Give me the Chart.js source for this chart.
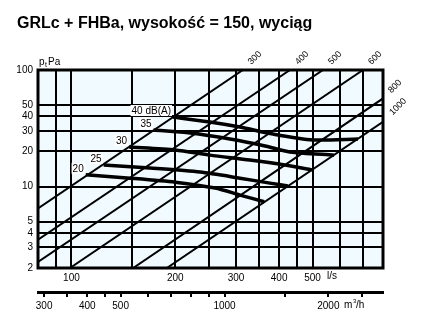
<!DOCTYPE html>
<html>
<head>
<meta charset="utf-8">
<script src="https://cdn.jsdelivr.net/npm/chart.js@4.4.1/dist/chart.umd.min.js"></script>
<style>
html, body { margin: 0; padding: 0; background: #fff; }
#wrap { position: relative; width: 444px; height: 326px; }
</style>
</head>
<body>
<div id="wrap"><canvas id="chart" width="444" height="326"></canvas></div>
<script>
const titleText = "GRLc + FHBa, wysokość = 150, wyciąg";

// axes (l/s, Pa, m3/h)
const xGrid = [80, 90, 100, 150, 200, 250, 300, 350, 400, 450, 500, 600, 700, 800];
const xLabels = [100, 200, 300, 400, 500];
const yGrid = [2, 3, 4, 5, 10, 20, 30, 40, 50, 100];
const yLabels = [2, 3, 4, 5, 10, 20, 30, 40, 50, 100];
const m3hTicks = [300, 350, 400, 450, 500, 600, 700, 800, 900, 1000, 1500, 2000, 2500];
const m3hLabels = [300, 400, 500, 1000, 2000];

// grille sizes: [l/s, Pa] end points
const sizeNames = ["300", "400", "500", "600", "800", "1000"];
const size300 = [[80, 6.5], [314, 100]];
const size400 = [[80, 3.5], [430, 100]];
const size500 = [[80, 2.25], [536, 100]];
const size600 = [[99, 2], [700, 100]];
const size800 = [[151, 2], [800, 57]];
const size1000 = [[189, 2], [800, 36]];

// sound level curves, dB(A)
const noiseNames = ["20", "25", "30", "35", "40 dB(A)"];
const noise20 = [[110, 12.6], [148, 11.8], [200, 10.9], [261, 9.7], [308, 8.45], [362, 7.4]];
const noise25 = [[124, 15.3], [169, 14.4], [236, 13.3], [308, 11.8], [376, 10.7], [424, 10.1]];
const noise30 = [[147, 21.8], [200, 20.6], [252, 18.6], [329, 16.9], [416, 15.3], [498, 13.9]];
const noise35 = [[173, 30.5], [221, 28.8], [288, 25.6], [364, 22.3], [430, 19.8], [577, 18.6]];
const noise40 = [[197, 39.5], [252, 35.8], [308, 32.4], [384, 28.2], [501, 25.1], [677, 25.6]];

const sizeLines = [size300, size400, size500, size600, size800, size1000];
const noiseLines = [noise20, noise25, noise30, noise35, noise40];

function pts(arr) {
    return arr.map(p => ({ x: p[0], y: p[1] }));
}

const datasets = [];
noiseLines.forEach(function (d) {
    datasets.push({ data: pts(d), borderColor: "#000", borderWidth: 3.5, pointRadius: 0, tension: 0.25, borderCapStyle: "butt" });
});
sizeLines.forEach(function (d) {
    datasets.push({ data: pts(d), borderColor: "#000", borderWidth: 2, pointRadius: 0, tension: 0 });
});

const font = "Liberation Sans, Arial, sans-serif";

const decor = {
    id: "decor",
    beforeDraw(chart) {
        const c = chart.ctx, a = chart.chartArea;
        c.save();
        c.fillStyle = "#fff";
        c.fillRect(0, 0, chart.width, chart.height);
        c.fillStyle = "#f0faff";
        c.fillRect(a.left, a.top, a.right - a.left, a.bottom - a.top);
        c.restore();
    },
    afterDraw(chart) {
        const c = chart.ctx, a = chart.chartArea;
        const xs = chart.scales.x, ys = chart.scales.y;
        c.save();
        // frame
        c.strokeStyle = "#000";
        c.lineWidth = 3;
        c.strokeRect(a.left, a.top, a.right - a.left, a.bottom - a.top);

        // title
        c.fillStyle = "#000";
        c.font = "bold 16px " + font;
        c.textAlign = "left";
        c.textBaseline = "alphabetic";
        c.fillText(titleText, 17, 28);

        // y axis name
        c.font = "10px " + font;
        c.fillText("p", a.left + 1, 65);
        c.font = "7px " + font;
        c.fillText("t", a.left + 7, 67);
        c.font = "10px " + font;
        c.fillText("Pa", a.left + 10, 65);

        // units
        c.textBaseline = "middle";
        c.fillText("l/s", 327, 276);
        c.fillText("m", 344, 305);
        c.font = "6px " + font;
        c.fillText("3", 353, 301);
        c.font = "10px " + font;
        c.fillText("/h", 356, 305);

        // grille size labels, rotated
        c.font = "9px " + font;
        c.textAlign = "center";
        sizeLines.forEach(function (d, i) {
            const e = d[d.length - 1];
            const px = xs.getPixelForValue(e[0]);
            const py = ys.getPixelForValue(e[1]);
            const extra = (sizeNames[i].length - 3) * 3;
            c.save();
            c.translate(px + 12 + extra, py - 12 - extra);
            c.rotate(-Math.PI / 4);
            c.fillText(sizeNames[i], 0, 0);
            c.restore();
        });

        // noise labels with white box
        c.font = "10px " + font;
        c.textAlign = "right";
        noiseLines.forEach(function (d, i) {
            const px = xs.getPixelForValue(d[0][0]) - 2;
            const py = ys.getPixelForValue(d[0][1]) - 6;
            const w = c.measureText(noiseNames[i]).width;
            c.fillStyle = "#fff";
            c.fillRect(px - w - 1, py - 6, w + 2, 11);
            c.fillStyle = "#000";
            c.fillText(noiseNames[i], px, py);
        });
        c.restore();
    }
};

new Chart(document.getElementById("chart"), {
    type: "line",
    data: { datasets: datasets },
    options: {
        responsive: false,
        animation: false,
        events: [],
        layout: { padding: { top: 70, right: 61, left: 0, bottom: 0 } },
        plugins: { legend: { display: false }, tooltip: { enabled: false } },
        scales: {
            x: {
                type: "logarithmic",
                position: "bottom",
                min: 80,
                max: 800,
                afterBuildTicks: s => { s.ticks = xGrid.map(v => ({ value: v })); },
                afterFit: s => { s.height = 24; },
                grid: { color: "#000", lineWidth: 2, drawTicks: false },
                border: { display: false },
                ticks: {
                    autoSkip: false, maxRotation: 0, padding: 4, color: "#000",
                    font: { size: 10, family: font },
                    callback: v => xLabels.includes(v) ? String(v) : ""
                }
            },
            x2: {
                type: "logarithmic",
                position: "bottom",
                min: 288,
                max: 2880,
                afterBuildTicks: s => { s.ticks = m3hTicks.map(v => ({ value: v })); },
                afterFit: s => { s.height = 34; },
                grid: { display: true, drawOnChartArea: false, drawTicks: true, tickLength: 5, color: "#000", lineWidth: 2 },
                border: { display: true, color: "#000", width: 3 },
                ticks: {
                    autoSkip: false, maxRotation: 0, padding: 3, color: "#000",
                    font: { size: 10, family: font },
                    callback: v => m3hLabels.includes(v) ? String(v) : ""
                }
            },
            y: {
                type: "logarithmic",
                min: 2,
                max: 100,
                afterBuildTicks: s => { s.ticks = yGrid.map(v => ({ value: v })); },
                afterFit: s => { s.width = 38; },
                grid: { color: "#000", lineWidth: 2, drawTicks: false },
                border: { display: false },
                ticks: {
                    autoSkip: false, padding: 5, color: "#000",
                    font: { size: 10, family: font },
                    callback: v => yLabels.includes(v) ? String(v) : ""
                }
            }
        }
    },
    plugins: [decor]
});
</script>
</body>
</html>
